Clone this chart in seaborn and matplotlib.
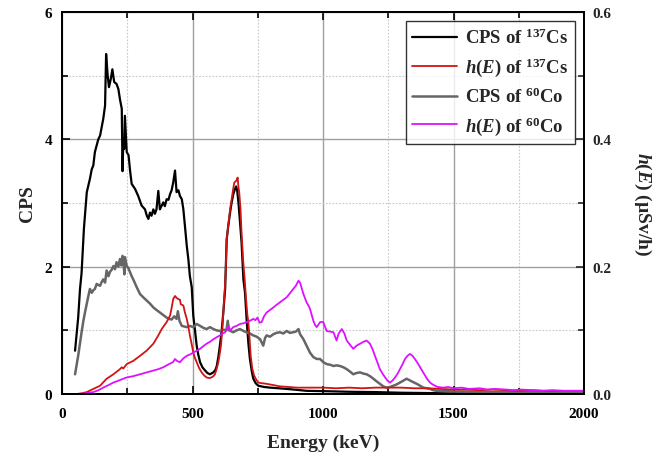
import numpy as np
import pandas as pd
import matplotlib as mpl
mpl.use("Agg")
import matplotlib.pyplot as plt
from matplotlib.ticker import MultipleLocator
import seaborn as sns

# ------------------------------------------------------------------------------ #
# data (energy in keV)
# ------------------------------------------------------------------------------ #

cs_cps_e = [50, 62, 69, 75, 84, 95, 107, 114, 120, 126, 139, 146, 158, 165, 169, 175, 180, 187, 193,
            200, 209, 216, 222, 229, 232, 235, 238, 241, 248, 255, 261, 267, 280, 292, 305, 318, 325,
            331, 337, 343, 350, 356, 362, 369, 375, 381, 388, 394, 401, 408, 414, 420, 426, 433, 439,
            446, 452, 459, 465, 471, 478, 484, 490, 497, 503, 510, 516, 522, 529, 538, 548, 557, 567,
            580, 588, 593, 599, 605, 612, 618, 625, 631, 637, 644, 650, 657, 663, 667, 671, 676, 682,
            688, 695, 701, 708, 714, 720, 727, 733, 742, 752, 775, 797, 830, 861, 900, 937, 1000, 1100,
            1200, 1300, 1400, 1500, 1600, 1800, 2000]
cs_cps = [0.68, 1.2, 1.65, 1.9, 2.6, 3.17, 3.38, 3.53, 3.59, 3.8, 4.0, 4.06, 4.32, 4.53, 5.34, 5.0, 4.82,
          4.95, 5.1, 4.9, 4.87, 4.79, 4.63, 4.48, 3.5, 4.0, 3.85, 4.37, 3.8, 3.75, 3.5, 3.3, 3.22, 3.11,
          2.96, 2.9, 2.8, 2.75, 2.85, 2.8, 2.9, 2.83, 2.9, 3.19, 2.9, 2.95, 3.01, 2.95, 3.06, 3.05, 3.14,
          3.2, 3.32, 3.51, 3.17, 3.2, 3.11, 3.06, 2.9, 2.64, 2.33, 2.12, 1.85, 1.68, 1.23, 0.98, 0.76,
          0.62, 0.5, 0.42, 0.37, 0.33, 0.31, 0.34, 0.38, 0.44, 0.58, 0.76, 1.0, 1.28, 1.65, 2.43, 2.64,
          2.85, 3.01, 3.15, 3.22, 3.26, 3.2, 3.01, 2.7, 2.38, 1.8, 1.6, 1.13, 0.8, 0.55, 0.36, 0.24,
          0.17, 0.13, 0.11, 0.1, 0.09, 0.08, 0.065, 0.05, 0.045, 0.035, 0.03, 0.02, 0.015, 0.01, 0.01,
          0.008, 0.005]

cs_h_e = [50, 56, 75, 95, 120, 146, 171, 197, 222, 229, 235, 248, 273, 299, 324, 350, 369, 382, 401,
          414, 420, 426, 433, 439, 446, 452, 455, 465, 471, 478, 484, 490, 497, 503, 509, 516, 525, 535,
          545, 554, 565, 573, 580, 586, 593, 599, 604, 609, 614, 618, 623, 627, 631, 637, 644, 650, 655,
          660, 665, 668, 673, 676, 679, 684, 688, 694, 700, 705, 710, 714, 719, 723, 729, 736, 745, 752,
          765, 784, 810, 835, 870, 899, 940, 1000, 1050, 1100, 1150, 1200, 1250, 1300, 1350, 1400, 1450,
          1500, 1550, 1600, 1650, 1700, 1750, 1800, 1850, 1900, 1950, 2000]
cs_h = [0.0, 0.0, 0.001, 0.003, 0.008, 0.013, 0.024, 0.031, 0.039, 0.042, 0.040, 0.047, 0.052, 0.060,
        0.068, 0.079, 0.092, 0.102, 0.113, 0.123, 0.135, 0.149, 0.154, 0.151, 0.149, 0.148, 0.141, 0.139,
        0.128, 0.118, 0.106, 0.092, 0.078, 0.065, 0.057, 0.050, 0.041, 0.034, 0.029, 0.026, 0.025, 0.026,
        0.028, 0.031, 0.040, 0.050, 0.062, 0.076, 0.100, 0.128, 0.160, 0.190, 0.243, 0.264, 0.290, 0.306,
        0.320, 0.332, 0.334, 0.335, 0.340, 0.325, 0.317, 0.290, 0.253, 0.210, 0.180, 0.150, 0.125, 0.113,
        0.085, 0.060, 0.040, 0.029, 0.022, 0.018, 0.017, 0.016, 0.014, 0.012, 0.011, 0.010, 0.010, 0.010,
        0.009, 0.010, 0.009, 0.010, 0.010, 0.010, 0.009, 0.009, 0.008, 0.007, 0.007, 0.006, 0.007, 0.006,
        0.005, 0.006, 0.005, 0.005, 0.005, 0.005]

co_cps_e = [50, 56, 62, 69, 75, 82, 88, 95, 101, 107, 114, 120, 126, 133, 140, 146, 152, 158, 165, 171,
            178, 184, 190, 197, 203, 209, 216, 222, 227, 232, 236, 239, 241, 248, 254, 261, 267, 273, 286,
            299, 311, 324, 337, 350, 362, 375, 388, 401, 410, 420, 430, 439, 444, 450, 459, 468, 478, 490,
            503, 516, 529, 541, 554, 567, 580, 592, 605, 620, 630, 635, 640, 656, 669, 682, 695, 708, 720,
            733, 746, 759, 771, 778, 784, 797, 810, 822, 835, 848, 861, 873, 886, 896, 906, 912, 925, 937,
            950, 963, 976, 989, 1001, 1014, 1027, 1040, 1052, 1065, 1078, 1091, 1104, 1116, 1129, 1142,
            1155, 1167, 1180, 1193, 1205, 1218, 1231, 1244, 1257, 1269, 1282, 1295, 1308, 1320, 1330, 1339,
            1349, 1359, 1372, 1384, 1397, 1410, 1422, 1435, 1470, 1500, 1600, 1700, 1800, 1900, 2000]
co_cps = [0.31, 0.45, 0.6, 0.8, 0.97, 1.15, 1.28, 1.42, 1.54, 1.65, 1.59, 1.63, 1.65, 1.73, 1.71, 1.7,
          1.76, 1.8, 1.75, 1.94, 1.85, 1.92, 1.95, 2.01, 1.96, 2.07, 2.0, 2.12, 2.02, 2.17, 2.05, 1.88,
          2.15, 2.01, 1.98, 1.91, 1.85, 1.8, 1.68, 1.57, 1.52, 1.47, 1.42, 1.36, 1.32, 1.28, 1.24, 1.2,
          1.18, 1.17, 1.22, 1.18, 1.3, 1.15, 1.07, 1.06, 1.05, 1.07, 1.05, 1.1, 1.07, 1.04, 1.02, 1.05,
          1.02, 1.0, 0.99, 1.01, 1.0, 1.15, 1.0, 0.97, 1.0, 1.02, 0.99, 0.97, 0.95, 0.92, 0.9, 0.86, 0.76,
          0.88, 0.92, 0.9, 0.94, 0.96, 0.97, 0.95, 0.99, 0.96, 0.97, 0.98, 1.02, 0.94, 0.86, 0.76, 0.65,
          0.58, 0.55, 0.55, 0.5, 0.47, 0.46, 0.44, 0.45, 0.44, 0.42, 0.39, 0.35, 0.31, 0.33, 0.34, 0.32,
          0.31, 0.28, 0.24, 0.2, 0.16, 0.12, 0.1, 0.11, 0.13, 0.15, 0.18, 0.21, 0.24, 0.22, 0.2, 0.18,
          0.16, 0.13, 0.1, 0.09, 0.08, 0.06, 0.05, 0.045, 0.04, 0.035, 0.03, 0.03, 0.025, 0.02]

co_h_e = [56, 90, 120, 140, 158, 178, 197, 222, 248, 273, 299, 324, 350, 369, 388, 410, 425, 433, 440,
          452, 465, 478, 490, 503, 516, 529, 541, 554, 567, 580, 592, 605, 615, 625, 637, 645, 656, 669,
          682, 695, 708, 720, 733, 741, 749, 757, 765, 774, 784, 797, 810, 822, 835, 848, 861, 873, 886,
          896, 906, 912, 919, 925, 937, 944, 950, 963, 970, 976, 989, 1001, 1014, 1027, 1040, 1052, 1060,
          1072, 1082, 1091, 1104, 1116, 1129, 1142, 1155, 1167, 1180, 1190, 1199, 1208, 1218, 1228, 1238,
          1247, 1257, 1266, 1276, 1286, 1295, 1305, 1314, 1324, 1333, 1343, 1352, 1362, 1372, 1382, 1391,
          1400, 1410, 1420, 1429, 1440, 1460, 1480, 1500, 1530, 1560, 1600, 1630, 1660, 1700, 1730, 1760,
          1800, 1840, 1880, 1920, 1960, 2000]
co_h = [0.0, 0.001, 0.003, 0.006, 0.010, 0.014, 0.018, 0.022, 0.026, 0.028, 0.031, 0.034, 0.037, 0.039,
        0.042, 0.047, 0.050, 0.055, 0.052, 0.050, 0.056, 0.060, 0.062, 0.065, 0.068, 0.071, 0.075, 0.079,
        0.082, 0.086, 0.089, 0.092, 0.095, 0.097, 0.107, 0.100, 0.105, 0.107, 0.110, 0.111, 0.113, 0.115,
        0.118, 0.116, 0.120, 0.112, 0.113, 0.122, 0.128, 0.132, 0.136, 0.140, 0.144, 0.148, 0.152, 0.158,
        0.165, 0.170, 0.178, 0.175, 0.165, 0.157, 0.144, 0.139, 0.134, 0.115, 0.108, 0.105, 0.113, 0.113,
        0.099, 0.098, 0.097, 0.084, 0.095, 0.102, 0.095, 0.084, 0.077, 0.071, 0.076, 0.079, 0.082, 0.084,
        0.079, 0.070, 0.060, 0.050, 0.039, 0.032, 0.026, 0.021, 0.018, 0.021, 0.026, 0.032, 0.039, 0.047,
        0.055, 0.060, 0.063, 0.060, 0.055, 0.049, 0.042, 0.035, 0.029, 0.023, 0.018, 0.015, 0.013, 0.011,
        0.010, 0.011, 0.009, 0.010, 0.008, 0.009, 0.007, 0.008, 0.007, 0.006, 0.007, 0.006, 0.005, 0.006,
        0.005, 0.005, 0.005]

labels = [r"CPS of $^{137}$Cs", r"$h$($E$) of $^{137}$Cs", r"CPS of $^{60}$Co", r"$h$($E$) of $^{60}$Co"]
colors = ["#000000", "#d01414", "#666666", "#dd11ff"]

# ------------------------------------------------------------------------------ #
# style
# ------------------------------------------------------------------------------ #

sns.set_style("white")
plt.rcParams["font.family"] = ["Liberation Serif", "DejaVu Serif"]
plt.rcParams["font.weight"] = "bold"
plt.rcParams["axes.labelweight"] = "bold"
plt.rcParams["mathtext.fontset"] = "custom"
plt.rcParams["mathtext.rm"] = "Liberation Serif:bold"
plt.rcParams["mathtext.it"] = "Liberation Serif:italic:bold"
plt.rcParams["mathtext.bf"] = "Liberation Serif:bold"

fig = plt.figure(figsize=(6.56, 4.6), dpi=100)
ax = fig.add_axes([62 / 656, 1 - 395 / 460, 522 / 656, 382 / 460])
ax2 = ax.twinx()

sns.lineplot(x=cs_cps_e, y=cs_cps, ax=ax, color=colors[0], lw=1.6, label=labels[0], legend=False)
sns.lineplot(x=co_cps_e, y=co_cps, ax=ax, color=colors[2], lw=1.8, label=labels[2], legend=False)
sns.lineplot(x=cs_h_e, y=cs_h, ax=ax2, color=colors[1], lw=1.3, label=labels[1], legend=False)
sns.lineplot(x=co_h_e, y=co_h, ax=ax2, color=colors[3], lw=1.3, label=labels[3], legend=False)

ax.set_xlim(0, 2000)
ax.set_ylim(0, 6)
ax2.set_ylim(0, 0.6)

ax.xaxis.set_major_locator(MultipleLocator(500))
ax.xaxis.set_minor_locator(MultipleLocator(250))
ax.yaxis.set_major_locator(MultipleLocator(2))
ax.yaxis.set_minor_locator(MultipleLocator(1))
ax2.yaxis.set_major_locator(MultipleLocator(0.2))
ax2.yaxis.set_minor_locator(MultipleLocator(0.1))
ax2.yaxis.set_major_formatter(mpl.ticker.FormatStrFormatter("%.1f"))

ax.grid(which="major", color="#a0a0a0", lw=1.0, ls="-")
ax.grid(which="minor", color="#c8c8c8", lw=0.8, ls=(0, (1.5, 1.5)))
ax.set_axisbelow(True)

ax.tick_params(which="both", direction="in", top=True, bottom=True, left=True, right=False,
               labelsize=11, width=1.2, colors="black")
ax.tick_params(which="major", length=6)
ax.tick_params(which="minor", length=4)
ax.tick_params(axis="x", pad=9)
ax.tick_params(axis="y", pad=7)
ax2.tick_params(which="both", direction="in", right=True, labelsize=11, width=1.2, pad=6)
ax2.tick_params(which="major", length=6)
ax2.tick_params(which="minor", length=4)
for a in (ax, ax2):
    for lab in a.get_xticklabels() + a.get_yticklabels():
        lab.set_fontweight("bold")
    for s in a.spines.values():
        s.set_color("black")
        s.set_linewidth(1.4)

ax.set_xlabel("Energy (keV)", fontsize=14, labelpad=10)
ax.set_ylabel("CPS", fontsize=14, labelpad=6)
ax2.set_ylabel(r"$h$($E$) (µSv/h)", fontsize=14, rotation=270, labelpad=30)

handles = [ax.get_lines()[0], ax2.get_lines()[0], ax.get_lines()[1], ax2.get_lines()[1]]
leg = ax2.legend(handles, labels, loc="upper right", fontsize=13.5, frameon=True, fancybox=False,
                 handlelength=2.4, handletextpad=0.4, borderaxespad=0.5, labelspacing=0.45,
                 borderpad=0.35)
leg.get_frame().set_edgecolor("black")
leg.get_frame().set_linewidth(1.0)

fig.savefig("out.png", dpi=100)
